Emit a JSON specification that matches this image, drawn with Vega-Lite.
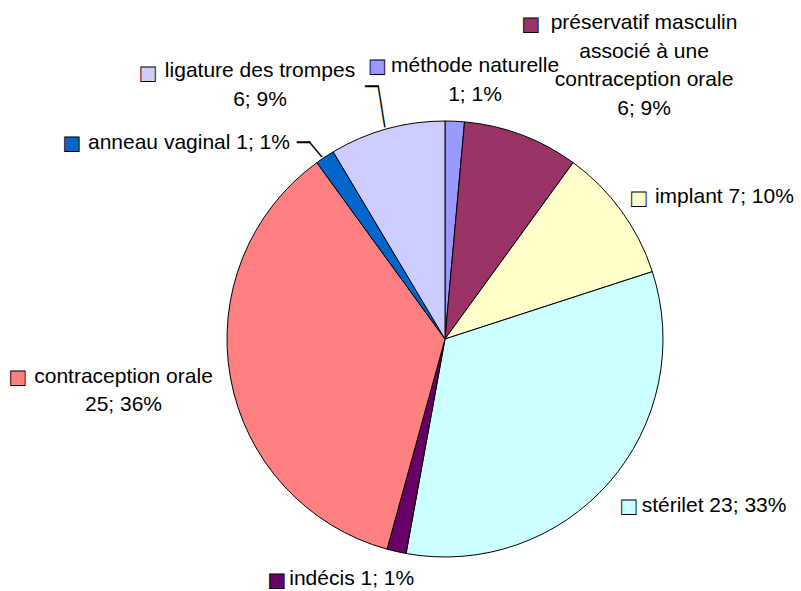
{
  "$schema": "https://vega.github.io/schema/vega-lite/v6.json",
  "autosize": "none",
  "width": 712,
  "height": 504,
  "padding": {"left": 89, "top": 87, "right": 0, "bottom": 0},
  "background": "#ffffff",
  "config": {"view": {"stroke": null}, "text": {"font": "Liberation Sans", "fontSize": 21, "lineHeight": 28.7, "lineBreak": "\n"}},
  "data": {"values": [
    {"idx": 1, "cat": "méthode naturelle", "value": 1, "label": "méthode naturelle\n1; 1%"},
    {"idx": 2, "cat": "préservatif masculin associé à une contraception orale", "value": 6, "label": "préservatif masculin\nassocié à une\ncontraception orale\n6; 9%"},
    {"idx": 3, "cat": "implant", "value": 7, "label": "implant 7; 10%"},
    {"idx": 4, "cat": "stérilet", "value": 23, "label": "stérilet 23; 33%"},
    {"idx": 5, "cat": "indécis", "value": 1, "label": "indécis 1; 1%"},
    {"idx": 6, "cat": "contraception orale", "value": 25, "label": "contraception orale\n25; 36%"},
    {"idx": 7, "cat": "anneau vaginal", "value": 1, "label": "anneau vaginal 1; 1%"},
    {"idx": 8, "cat": "ligature des trompes", "value": 6, "label": "ligature des trompes\n6; 9%"}
  ]},
  "encoding": {
    "theta": {"field": "value", "type": "quantitative", "stack": true},
    "order": {"field": "idx", "type": "quantitative"},
    "detail": {"field": "cat", "type": "nominal"}
  },
  "layer": [
    {"mark": {"type": "arc", "outerRadius": 218, "stroke": "#000000", "strokeWidth": 1},
     "encoding": {"color": {"field": "cat", "type": "nominal", "legend": null,
       "scale": {"domain": ["méthode naturelle", "préservatif masculin associé à une contraception orale", "implant", "stérilet", "indécis", "contraception orale", "anneau vaginal", "ligature des trompes"],
                 "range": ["#9999FF", "#993366", "#FFFFCC", "#CCFFFF", "#660066", "#FF8080", "#0066CC", "#CCCCFF"]}}}},

    {"mark": {"type": "text", "radius": 250, "align": "center", "baseline": "alphabetic", "dx": 18.8, "dy": -17.3, "fill": "#000"},
     "encoding": {"text": {"condition": {"test": "datum.idx === 1", "field": "label"}, "value": ""}}},
    {"mark": {"type": "text", "radius": 250, "align": "center", "baseline": "alphabetic", "dx": 111.2, "dy": -75.9, "fill": "#000"},
     "encoding": {"text": {"condition": {"test": "datum.idx === 2", "field": "label"}, "value": ""}}},
    {"mark": {"type": "text", "radius": 250, "align": "left", "baseline": "alphabetic", "dx": 7.7, "dy": 11.2, "fill": "#000"},
     "encoding": {"text": {"condition": {"test": "datum.idx === 3", "field": "label"}, "value": ""}}},
    {"mark": {"type": "text", "radius": 250, "align": "left", "baseline": "alphabetic", "dx": 8.4, "dy": 8.5, "fill": "#000"},
     "encoding": {"text": {"condition": {"test": "datum.idx === 4", "field": "label"}, "value": ""}}},
    {"mark": {"type": "text", "radius": 250, "align": "left", "baseline": "alphabetic", "dx": -100.1, "dy": 2.3, "fill": "#000"},
     "encoding": {"text": {"condition": {"test": "datum.idx === 5", "field": "label"}, "value": ""}}},
    {"mark": {"type": "text", "radius": 250, "align": "center", "baseline": "alphabetic", "dx": -75.5, "dy": -1, "fill": "#000"},
     "encoding": {"text": {"condition": {"test": "datum.idx === 6", "field": "label"}, "value": ""}}},
    {"mark": {"type": "text", "radius": 250, "align": "right", "baseline": "alphabetic", "dx": -17.3, "dy": 18.3, "fill": "#000"},
     "encoding": {"text": {"condition": {"test": "datum.idx === 7", "field": "label"}, "value": ""}}},
    {"mark": {"type": "text", "radius": 250, "align": "center", "baseline": "alphabetic", "dx": -118.5, "dy": -20.7, "fill": "#000"},
     "encoding": {"text": {"condition": {"test": "datum.idx === 8", "field": "label"}, "value": ""}}},

    {"mark": {"type": "text", "radius": 250, "font": "DejaVu Sans", "fontSize": 19, "align": "center", "baseline": "middle", "dx": -78.7, "dy": -23.3, "stroke": "#000", "strokeWidth": 0.9},
     "encoding": {"color": {"field": "cat", "type": "nominal", "legend": null}, "text": {"condition": {"test": "datum.idx === 1", "value": "■"}, "value": ""}}},
    {"mark": {"type": "text", "radius": 250, "font": "DejaVu Sans", "fontSize": 19, "align": "center", "baseline": "middle", "dx": -1.8, "dy": -80.9, "stroke": "#000", "strokeWidth": 0.9},
     "encoding": {"color": {"field": "cat", "type": "nominal", "legend": null}, "text": {"condition": {"test": "datum.idx === 2", "value": "■"}, "value": ""}}},
    {"mark": {"type": "text", "radius": 250, "font": "DejaVu Sans", "fontSize": 19, "align": "center", "baseline": "middle", "dx": -8.3, "dy": 5.9, "stroke": "#000", "strokeWidth": 0.9},
     "encoding": {"color": {"field": "cat", "type": "nominal", "legend": null}, "text": {"condition": {"test": "datum.idx === 3", "value": "■"}, "value": ""}}},
    {"mark": {"type": "text", "radius": 250, "font": "DejaVu Sans", "fontSize": 19, "align": "center", "baseline": "middle", "dx": -4.3, "dy": 3, "stroke": "#000", "strokeWidth": 0.9},
     "encoding": {"color": {"field": "cat", "type": "nominal", "legend": null}, "text": {"condition": {"test": "datum.idx === 4", "value": "■"}, "value": ""}}},
    {"mark": {"type": "text", "radius": 250, "font": "DejaVu Sans", "fontSize": 19, "align": "center", "baseline": "middle", "dx": -112.4, "dy": -2.7, "stroke": "#000", "strokeWidth": 0.9},
     "encoding": {"color": {"field": "cat", "type": "nominal", "legend": null}, "text": {"condition": {"test": "datum.idx === 5", "value": "■"}, "value": ""}}},
    {"mark": {"type": "text", "radius": 250, "font": "DejaVu Sans", "fontSize": 19, "align": "center", "baseline": "middle", "dx": -181, "dy": -6.2, "stroke": "#000", "strokeWidth": 0.9},
     "encoding": {"color": {"field": "cat", "type": "nominal", "legend": null}, "text": {"condition": {"test": "datum.idx === 6", "value": "■"}, "value": ""}}},
    {"mark": {"type": "text", "radius": 250, "font": "DejaVu Sans", "fontSize": 19, "align": "center", "baseline": "middle", "dx": -235.3, "dy": 13.1, "stroke": "#000", "strokeWidth": 0.9},
     "encoding": {"color": {"field": "cat", "type": "nominal", "legend": null}, "text": {"condition": {"test": "datum.idx === 7", "value": "■"}, "value": ""}}},
    {"mark": {"type": "text", "radius": 250, "font": "DejaVu Sans", "fontSize": 19, "align": "center", "baseline": "middle", "dx": -230.2, "dy": -25, "stroke": "#000", "strokeWidth": 0.9},
     "encoding": {"color": {"field": "cat", "type": "nominal", "legend": null}, "text": {"condition": {"test": "datum.idx === 8", "value": "■"}, "value": ""}}},

    {"mark": {"type": "text", "radius": 250, "font": "DejaVu Sans", "fontSize": 22, "align": "center", "baseline": "middle", "dx": -4, "dy": 12.3, "fill": "#000"},
     "encoding": {"text": {"condition": {"test": "datum.idx === 7", "value": "─"}, "value": ""}}},
    {"mark": {"type": "text", "radius": 250, "font": "DejaVu Sans", "fontSize": 17, "align": "center", "baseline": "middle", "angle": -40, "dx": -5.9, "dy": 20.5, "fill": "#000"},
     "encoding": {"text": {"condition": {"test": "datum.idx === 7", "value": "│"}, "value": ""}}},
    {"mark": {"type": "text", "radius": 250, "font": "DejaVu Sans", "fontSize": 22, "align": "center", "baseline": "middle", "dx": -6.8, "dy": -10.7, "fill": "#000"},
     "encoding": {"text": {"condition": {"test": "datum.idx === 8", "value": "─"}, "value": ""}}},
    {"mark": {"type": "text", "radius": 250, "font": "DejaVu Sans", "fontSize": 18, "align": "center", "baseline": "middle", "angle": -9.35, "dx": 1.56, "dy": -0.25, "fill": "#000"},
     "encoding": {"text": {"condition": {"test": "datum.idx === 8", "value": "│"}, "value": ""}}},
    {"mark": {"type": "text", "radius": 250, "font": "DejaVu Sans", "fontSize": 18, "align": "center", "baseline": "middle", "angle": -9.35, "dx": 1.52, "dy": 20.32, "fill": "#000"},
     "encoding": {"text": {"condition": {"test": "datum.idx === 8", "value": "│"}, "value": ""}}}
  ]
}
